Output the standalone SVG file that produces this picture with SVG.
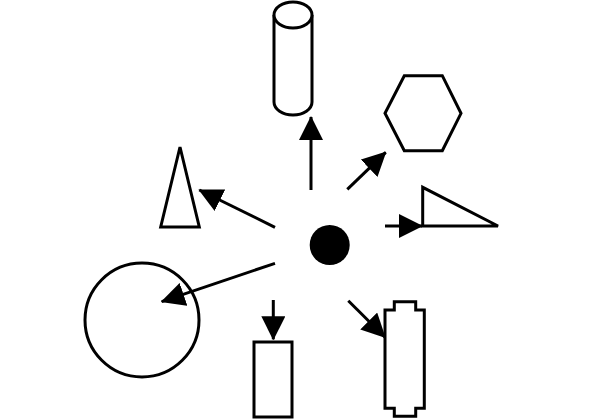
<svg xmlns="http://www.w3.org/2000/svg" width="591" height="419" viewBox="0 0 591 419">
  <defs>
    <marker id="ah" markerUnits="userSpaceOnUse" markerWidth="24" markerHeight="24" refX="23" refY="12" orient="auto">
      <path d="M0,0 L24,12 L0,24 z" fill="#000"/>
    </marker>
  </defs>
  <style>
    .s { fill: #fff; stroke: #000; stroke-width: 3; stroke-linejoin: miter; }
    .c { stroke: #000; stroke-width: 3; fill: none; marker-end: url(#ah); }
  </style>
  <rect width="591" height="419" fill="#fff"/>
  <g id="center"><circle cx="329.7" cy="245" r="20" fill="#000"/></g>
  <g id="cylinder">
    <path class="s" d="M274,15 L274,102 A19,13 0 0 0 312,102 L312,15"/>
    <ellipse class="s" cx="293" cy="15" rx="19" ry="13"/>
  </g>
  <g id="hexagon"><polygon class="s" points="404.3,75.7 442.3,75.7 461,113.3 442.3,150.7 404.3,150.7 385,113.3"/></g>
  <g id="triangle"><polygon class="s" points="422.7,187.3 422.7,226 498,226"/></g>
  <g id="cone"><polygon class="s" points="180,147 160.7,227 199.3,227"/></g>
  <g id="circle"><circle class="s" cx="142" cy="320" r="57"/></g>
  <g id="rect"><rect class="s" x="254" y="342" width="38" height="75"/></g>
  <g id="battery"><polygon class="s" points="385,310 394.3,310 394.3,301.7 415.7,301.7 415.7,310 424.3,310 424.3,408.3 415.7,408.3 415.7,416.3 394.3,416.3 394.3,408.3 385,408.3"/></g>
  <g id="connectors">
    <line class="c" x1="311" y1="190" x2="311" y2="117"/>
    <line class="c" x1="347.3" y1="189.3" x2="385.7" y2="152.3"/>
    <line class="c" x1="385" y1="226" x2="422" y2="226"/>
    <line class="c" x1="275" y1="227.3" x2="199.3" y2="190"/>
    <line class="c" x1="275" y1="263.3" x2="161.7" y2="301.7"/>
    <line class="c" x1="273.3" y1="300" x2="273.3" y2="339.3"/>
    <line class="c" x1="348.3" y1="300.7" x2="385" y2="337.3"/>
  </g>
</svg>
